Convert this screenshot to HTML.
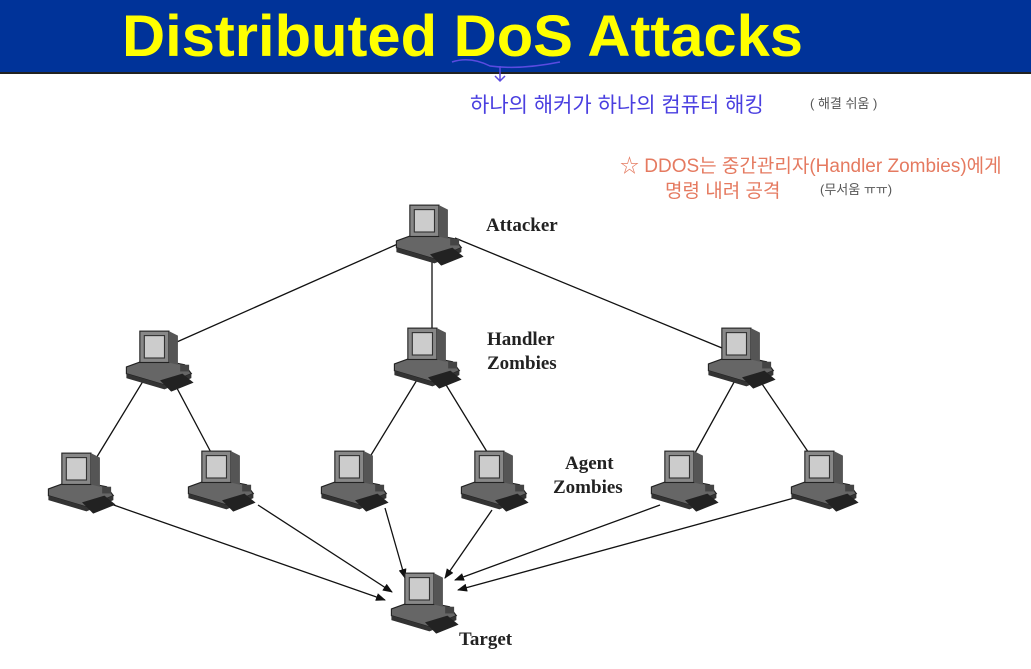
<!DOCTYPE html>
<html><head><meta charset="utf-8"><style>
body{margin:0;width:1031px;height:664px;overflow:hidden;background:#fff}
</style></head><body>
<svg width="1031" height="664" xmlns="http://www.w3.org/2000/svg">
<defs>
<marker id="a" markerWidth="10" markerHeight="8" refX="9" refY="4" orient="auto" markerUnits="userSpaceOnUse"><path d="M0,0 L10,4 L0,8 z" fill="#111"/></marker>
<g id="pc" transform="scale(1.12)">
<path d="M-30,8 L-8,0 L22,6 L28,14 L4,24 L-30,14 z" fill="#666" stroke="#222"/>
<path d="M-30,14 L4,24 L28,14 L28,18 L4,28 L-30,18 z" fill="#333"/>
<rect x="-18" y="-24" width="26" height="28" fill="#888" stroke="#222"/>
<rect x="-14" y="-20" width="18" height="20" fill="#ccc" stroke="#333"/>
<path d="M8,-24 L16,-20 L16,6 L8,4 z" fill="#555"/>
<path d="M0,20 L20,14 L30,22 L10,30 z" fill="#222"/>
<rect x="18" y="6" width="8" height="6" fill="#444"/>
</g>
</defs>
<rect x="0" y="0" width="1031" height="72" fill="#003399"/>
<rect x="0" y="72" width="1031" height="2" fill="#222"/>
<text x="122" y="56" font-family="Liberation Sans, sans-serif" font-weight="bold" font-size="58" fill="#ffff00" textLength="681" lengthAdjust="spacingAndGlyphs">Distributed DoS Attacks</text>
<path d="M452,62 Q470,56 490,66 Q520,70 560,62" stroke="#5a4be0" fill="none" stroke-width="1.5"/>
<path d="M500,66 L500,80 M495,76 L500,81 L505,76" stroke="#5a4be0" fill="none" stroke-width="1.5"/>
<text x="470" y="112" font-family="Liberation Sans, 'Noto Sans CJK KR', sans-serif" font-size="21" fill="#4a3fe0">하나의 해커가 하나의 컴퓨터 해킹</text>
<text x="810" y="108" font-family="Liberation Sans, 'Noto Sans CJK KR', sans-serif" font-size="13" fill="#555">( 해결 쉬움 )</text>
<text x="620" y="172" font-family="Liberation Sans, 'Noto Sans CJK KR', sans-serif" font-size="19" fill="#e57a60">☆ DDOS는 중간관리자(Handler Zombies)에게</text>
<text x="665" y="197" font-family="Liberation Sans, 'Noto Sans CJK KR', sans-serif" font-size="19" fill="#e57a60">명령 내려 공격</text>
<text x="820" y="194" font-family="Liberation Sans, 'Noto Sans CJK KR', sans-serif" font-size="13" fill="#555">(무서움 ㅠㅠ)</text>
<g stroke="#111" stroke-width="1.3" fill="none">
<line x1="400" y1="243" x2="170" y2="345"/>
<line x1="432" y1="258" x2="432" y2="332"/>
<line x1="455" y1="238" x2="722" y2="348"/>
<line x1="148" y1="373" x2="95" y2="460"/>
<line x1="170" y1="375" x2="215" y2="460"/>
<line x1="420" y1="375" x2="368" y2="460"/>
<line x1="440" y1="375" x2="492" y2="460"/>
<line x1="738" y1="375" x2="690" y2="462"/>
<line x1="756" y1="375" x2="815" y2="462"/>
<g marker-end="url(#a)">
<line x1="108" y1="503" x2="385" y2="600"/>
<line x1="258" y1="505" x2="392" y2="592"/>
<line x1="385" y1="508" x2="405" y2="578"/>
<line x1="492" y1="510" x2="445" y2="578"/>
<line x1="660" y1="505" x2="455" y2="580"/>
<line x1="805" y1="495" x2="458" y2="590"/>
</g>
</g>
<use href="#pc" x="430" y="232"/>
<use href="#pc" x="160" y="358"/>
<use href="#pc" x="428" y="355"/>
<use href="#pc" x="742" y="355"/>
<use href="#pc" x="82" y="480"/>
<use href="#pc" x="222" y="478"/>
<use href="#pc" x="355" y="478"/>
<use href="#pc" x="495" y="478"/>
<use href="#pc" x="685" y="478"/>
<use href="#pc" x="825" y="478"/>
<use href="#pc" x="425" y="600"/>
<g font-family="Liberation Serif, serif" font-weight="bold" font-size="19" fill="#222">
<text x="486" y="231">Attacker</text>
<text x="487" y="345">Handler</text>
<text x="487" y="369">Zombies</text>
<text x="565" y="469">Agent</text>
<text x="553" y="493">Zombies</text>
<text x="459" y="645">Target</text>
</g>
</svg>
</body></html>
